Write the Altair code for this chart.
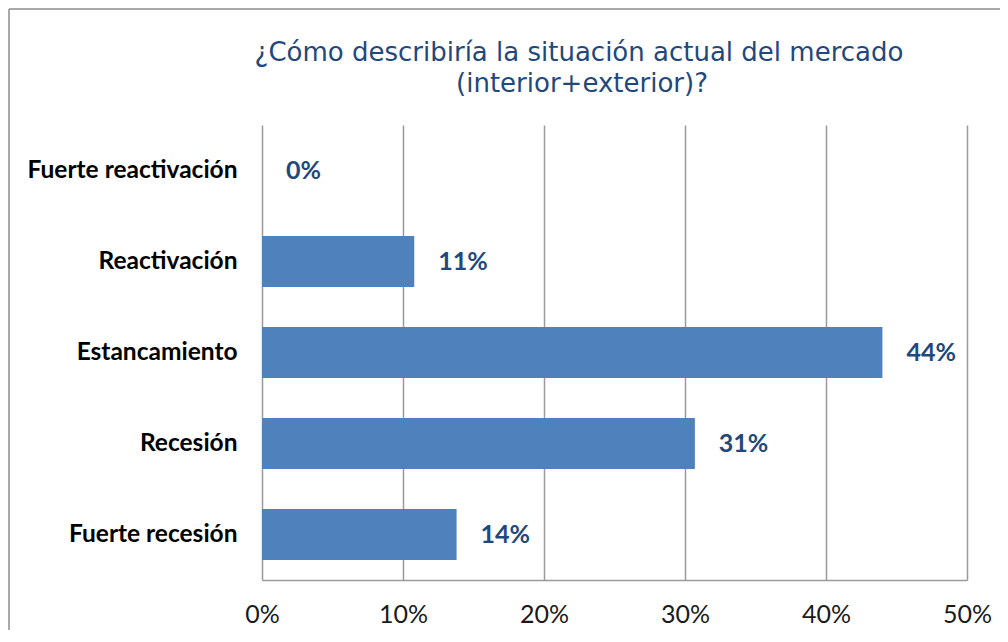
import altair as alt
import pandas as pd

categories = ["Fuerte reactivación", "Reactivación", "Estancamiento", "Recesión", "Fuerte recesión"]
values = [0.0, 0.108, 0.440, 0.307, 0.138]
title_lines = ["¿Cómo describiría la situación actual del mercado", "(interior+exterior)?"]

df = pd.DataFrame({"categoria": categories, "valor": values})

W, H = 705, 455

y_enc = alt.Y("categoria:N", sort=categories,
              scale=alt.Scale(paddingInner=0.44, paddingOuter=0.22),
              axis=alt.Axis(title=None, ticks=False, domain=False, grid=False,
                            labelFont="Lato", labelFontWeight="bold", labelFontSize=24.5,
                            labelColor="#000000", labelPadding=25, labelLimit=300))
x_enc = alt.X("valor:Q", scale=alt.Scale(domain=[0, 0.5], nice=False),
              axis=alt.Axis(title=None, format=".0%", values=[0, 0.1, 0.2, 0.3, 0.4, 0.5],
                            tickSize=0, grid=True, gridColor="#9a9a9a", gridWidth=1.5,
                            domainColor="#9a9a9a", domainWidth=1.5, labelFlush=False,
                            labelFont="Lato", labelFontSize=25, labelColor="#1a1a1a",
                            labelPadding=22))

one = pd.DataFrame({"k": [0]})
frame_left = alt.Chart(one).mark_rule(color="#8c8c8c", strokeWidth=1.5).encode(
    x=alt.value(-253), y=alt.value(-116), y2=alt.value(530))
frame_top = alt.Chart(one).mark_rule(color="#8c8c8c", strokeWidth=1.5).encode(
    x=alt.value(-253), x2=alt.value(760), y=alt.value(-116))

title1 = alt.Chart(pd.DataFrame({"t": [title_lines[0]]})).mark_text(
    font="DejaVu Sans", fontSize=26, color="#1F497D", align="center", baseline="alphabetic"
).encode(text="t:N", x=alt.value(317), y=alt.value(-64))
title2 = alt.Chart(pd.DataFrame({"t": [title_lines[1]]})).mark_text(
    font="DejaVu Sans", fontSize=26, color="#1F497D", align="center", baseline="alphabetic"
).encode(text="t:N", x=alt.value(320), y=alt.value(-33))

bars = alt.Chart(df).mark_bar(color="#4F81BD").encode(x=x_enc, y=y_enc)

labels = alt.Chart(df).mark_text(
    align="left", baseline="middle", dx=24, font="Lato", fontWeight="bold",
    fontSize=25, color="#1F497D"
).encode(x="valor:Q", y=alt.Y("categoria:N", sort=categories),
         text=alt.Text("valor:Q", format=".0%"))

chart = alt.layer(frame_left, frame_top, title1, title2, bars, labels).properties(
    width=W, height=H,
    autosize=alt.AutoSizeParams(type="none"),
    padding={"left": 254, "top": 117, "right": 33, "bottom": 50},
).configure(background="#ffffff").configure_view(strokeWidth=0, stroke="transparent")

chart.save("out.html", embed_options={"renderer": "svg", "actions": False})
